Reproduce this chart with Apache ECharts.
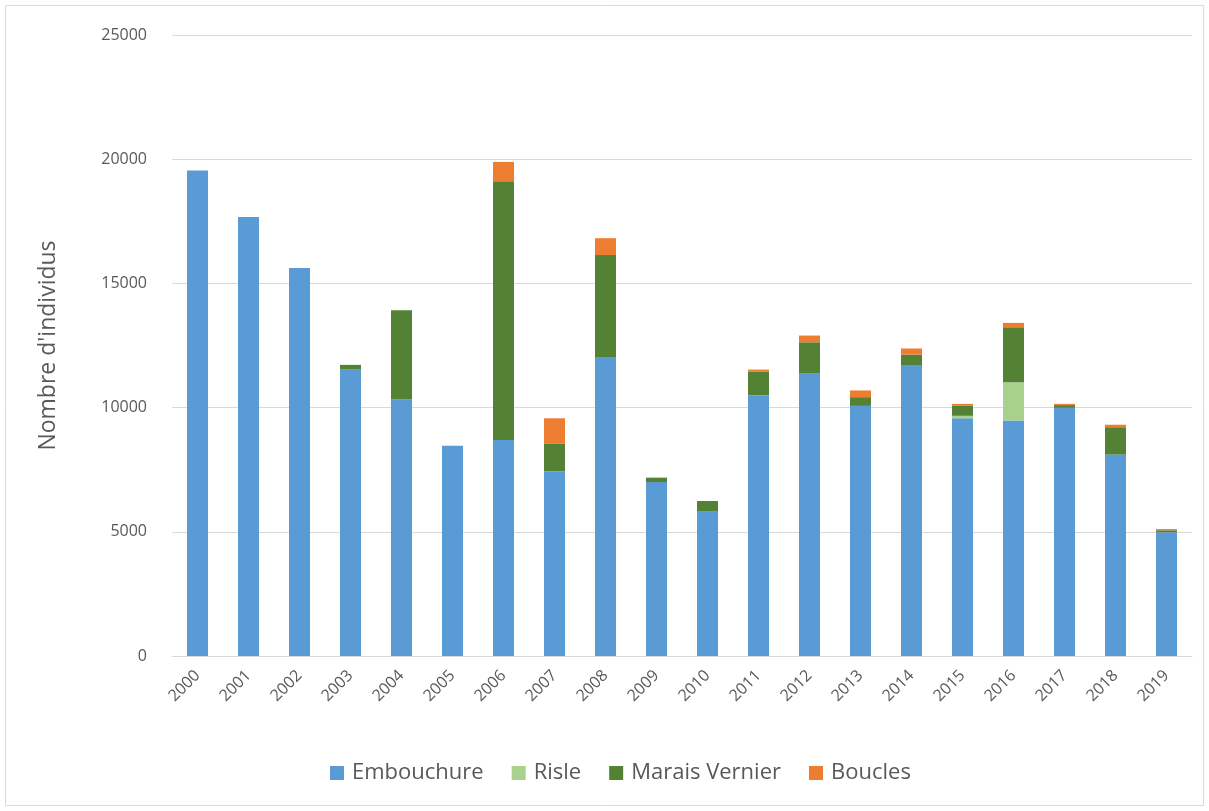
<!DOCTYPE html>
<html>
<head>
<meta charset="utf-8">
<script src="https://cdn.jsdelivr.net/npm/echarts@6/dist/echarts.min.js"></script>
<style>
html,body{margin:0;padding:0;background:#fff;}
#chart{width:1209px;height:811px;}
</style>
</head>
<body>
<div id="chart"></div>
<script>
const years = ['2000','2001','2002','2003','2004','2005','2006','2007','2008','2009','2010','2011','2012','2013','2014','2015','2016','2017','2018','2019'];
const embouchure = [19550,17670,15620,11530,10330,8460,8700,7430,12040,7000,5810,10500,11370,10070,11690,9570,9480,9990,8110,4980];
const risle      = [0,0,0,0,0,0,0,0,0,0,0,0,0,0,0,100,1540,0,0,0];
const maraisVernier = [0,0,0,190,3590,0,10410,1110,4100,180,430,940,1260,350,440,400,2210,110,1100,80];
const boucles    = [0,0,0,0,0,0,780,1030,680,0,0,90,270,270,250,80,180,50,100,50];
const seriesNames = ['Embouchure','Risle','Marais Vernier','Boucles'];
const yTitle = "Nombre d'individus";

const colors = ['#5b9bd5','#a9d18e','#548235','#ed7d31'];
const font = 'Open Sans';
const chart = echarts.init(document.getElementById('chart'), null, {renderer:'canvas'});
const dataSets = [embouchure, risle, maraisVernier, boucles];
chart.setOption({
  animation:false,
  color: colors,
  graphic:[{type:'rect', shape:{x:5.5,y:5.5,width:1198,height:800}, style:{fill:'none', stroke:'#d9d9d9', lineWidth:1}, z:-1}],
  grid:{left:172, right:17, top:35, bottom:155},
  legend:{
    left:325, top:757, itemWidth:14, itemHeight:14, itemGap:28, icon:'rect',
    textStyle:{fontFamily:font, fontSize:22, color:'#595959', padding:[0,0,0,3]},
    data: seriesNames
  },
  xAxis:{
    type:'category', data: years,
    axisLine:{lineStyle:{color:'#d9d9d9', width:1}},
    axisTick:{show:false},
    axisLabel:{rotate:45, margin:17, fontFamily:font, fontSize:16, color:'#595959'}
  },
  yAxis:{
    type:'value', min:0, max:25000, interval:5000,
    name: yTitle, nameLocation:'middle', nameGap:112, nameRotate:90,
    nameTextStyle:{fontFamily:font, fontSize:23, color:'#595959'},
    axisLine:{show:false}, axisTick:{show:false},
    splitLine:{lineStyle:{color:'#d9d9d9', width:1}},
    axisLabel:{margin:25, fontFamily:font, fontSize:16, color:'#595959', formatter:(v)=>String(v)}
  },
  series: seriesNames.map((n,i)=>({
    name:n, type:'bar', stack:'total', barWidth:21,
    data: dataSets[i]
  }))
});
</script>
</body>
</html>
